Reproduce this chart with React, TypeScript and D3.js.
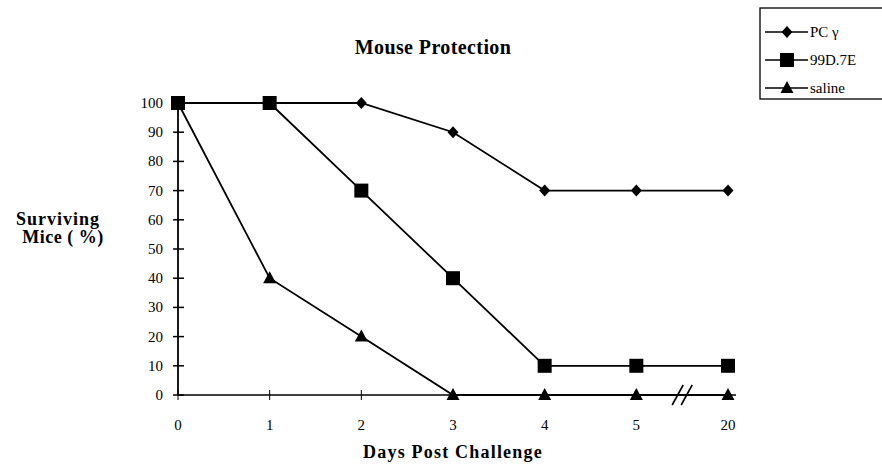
import React from "react";
import * as d3 from "d3";

const days = ["0", "1", "2", "3", "4", "5", "20"];
const pcGamma = [100, 100, 100, 90, 70, 70, 70];
const d99 = [100, 100, 70, 40, 10, 10, 10];
const saline = [100, 40, 20, 0, 0, 0, 0];
const yTicks = [0, 10, 20, 30, 40, 50, 60, 70, 80, 90, 100];
const seriesNames = ["PC \u03b3", "99D.7E", "saline"];

const W = 882, H = 470;
const FONT = "'Liberation Serif', 'Times New Roman', serif";

function Marker({ kind, x, y }: { kind: string; x: number; y: number }) {
  if (kind === "diamond") {
    return <path d={`M${x},${y - 6}L${x + 5.5},${y}L${x},${y + 6}L${x - 5.5},${y}Z`} fill="#000" />;
  }
  if (kind === "square") {
    return <rect x={x - 7} y={y - 7} width={14} height={14} fill="#000" />;
  }
  return <path d={`M${x},${y - 7}L${x + 6.5},${y + 5}L${x - 6.5},${y + 5}Z`} fill="#000" />;
}

export default function App() {
  const x = d3.scalePoint<string>().domain(days).range([178, 728]);
  const y = d3.scaleLinear().domain([0, 100]).range([395, 103]);
  const line = d3.line<number>().x((_, i) => x(days[i])!).y((v) => y(v));
  const series = [
    { name: seriesNames[0], values: pcGamma, kind: "diamond" },
    { name: seriesNames[1], values: d99, kind: "square" },
    { name: seriesNames[2], values: saline, kind: "triangle" },
  ];
  const breakX = (x("5")! + x("20")!) / 2;
  const y0 = y(0);
  return (
    <svg width={W} height={H} style={{ position: "absolute", left: 0, top: 0, background: "#fff" }} fontFamily={FONT}>
      <rect width={W} height={H} fill="#fff" />
      <text x={433} y={54} textAnchor="middle" fontSize={20} fontWeight="bold" letterSpacing={0.4}>Mouse Protection</text>
      <text x={58} y={225} textAnchor="middle" fontSize={18} fontWeight="bold" letterSpacing={1}>Surviving</text>
      <text x={63} y={243} textAnchor="middle" fontSize={18} fontWeight="bold" letterSpacing={0.5}>Mice ( %)</text>
      <text x={453} y={458} textAnchor="middle" fontSize={18} fontWeight="bold" letterSpacing={1.2}>Days Post Challenge</text>
      {/* axes */}
      <line x1={178} x2={178} y1={y(100)} y2={y0} stroke="#000" strokeWidth={1.8} />
      <line x1={178} x2={x("20")! + 8} y1={y0} y2={y0} stroke="#000" strokeWidth={1.5} />
      {yTicks.map((t) => (
        <g key={t}>
          <line x1={173} x2={184} y1={y(t)} y2={y(t)} stroke="#000" strokeWidth={1.5} />
          <text x={163} y={y(t) + 5} textAnchor="end" fontSize={15}>{t}</text>
        </g>
      ))}
      {days.map((d) => (
        <g key={d}>
          <line x1={x(d)} x2={x(d)} y1={y0 - 5} y2={y0 + 5} stroke="#000" strokeWidth={1} />
          <text x={x(d)} y={y0 + 35} textAnchor="middle" fontSize={15}>{d}</text>
        </g>
      ))}
      {/* break */}
      <rect x={breakX - 7} y={y0 - 2} width={14} height={4} fill="#fff" />
      <line x1={breakX - 10} x2={breakX + 1} y1={y0 + 10} y2={y0 - 10} stroke="#000" strokeWidth={1.6} />
      <line x1={breakX - 1} x2={breakX + 10} y1={y0 + 10} y2={y0 - 10} stroke="#000" strokeWidth={1.6} />
      {series.map((s) => (
        <g key={s.name}>
          <path d={line(s.values) || ""} fill="none" stroke="#000" strokeWidth={1.8} />
          {s.values.map((v, i) => (
            <Marker key={i} kind={s.kind} x={x(days[i])!} y={y(v)} />
          ))}
        </g>
      ))}
      {/* legend */}
      <rect x={760} y={8} width={130} height={91} fill="#fff" stroke="#000" strokeWidth={1.3} />
      {series.map((s, i) => {
        const ly = 32 + i * 28;
        return (
          <g key={s.name}>
            <line x1={765} x2={808} y1={ly} y2={ly} stroke="#000" strokeWidth={1.4} />
            <Marker kind={s.kind} x={787} y={ly} />
            <text x={810} y={ly + 5} fontSize={15}>{s.name}</text>
          </g>
        );
      })}
    </svg>
  );
}
